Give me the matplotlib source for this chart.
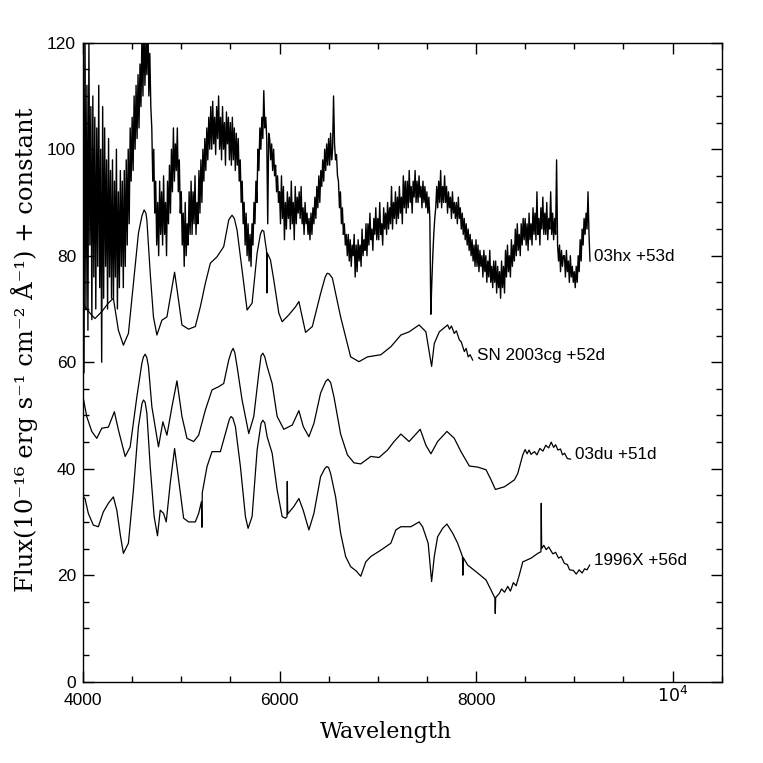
import numpy as np
import matplotlib.pyplot as plt
import matplotlib.transforms as mtransforms
from matplotlib.ticker import MultipleLocator, FixedLocator, FixedFormatter

# ---------------- spectra (wavelength [A], flux + constant) ----------------
# SN 1996X +56d
wl_96x = [4000, 4020, 4054, 4105, 4156, 4207, 4258, 4309, 4344, 4380, 4411, 4462, 4513, 4564,
          4600, 4615, 4632, 4650, 4684, 4724, 4758, 4786, 4820, 4847, 4888, 4932, 4973, 5024,
          5075, 5143, 5177, 5205, 5210, 5214, 5262, 5313, 5398, 5449, 5490, 5507, 5525, 5551,
          5602, 5653, 5680, 5721, 5772, 5812, 5830, 5850, 5874, 5925, 5976, 6027, 6061, 6076,
          6079, 6083, 6146, 6197, 6241, 6299, 6350, 6418, 6460, 6480, 6500, 6520, 6571, 6622,
          6673, 6724, 6780, 6827, 6878, 6929, 7031, 7133, 7184, 7235, 7337, 7421, 7456, 7513,
          7548, 7575, 7609, 7660, 7704, 7762, 7813, 7862, 7866, 7870, 7915, 8017, 8102, 8153,
          8192, 8196, 8200, 8238, 8260, 8290, 8323, 8350, 8380, 8408, 8440, 8476, 8561, 8629,
          8661, 8664, 8668, 8690, 8714, 8740, 8782, 8810, 8840, 8867, 8900, 8930, 8952, 8990,
          9020, 9050, 9080, 9105, 9130, 9157]
fl_96x = [34.8, 34.4, 31.6, 29.4, 29.1, 31.9, 33.5, 34.7, 32.2, 27.5, 24.1, 26.0, 36.0, 47.9,
          52.2, 52.9, 52.5, 50.4, 40.4, 31.0, 27.4, 32.2, 31.6, 30.0, 37.3, 43.8, 37.9, 30.7,
          30.0, 30.0, 31.6, 33.8, 29.0, 35.5, 40.4, 43.2, 43.2, 46.6, 49.3, 49.8, 49.5, 47.9,
          40.4, 31.0, 28.8, 31.0, 43.5, 48.5, 49.1, 48.6, 46.0, 42.9, 36.0, 31.0, 30.7, 31.0,
          37.6, 31.5, 32.9, 34.4, 32.2, 28.5, 31.6, 38.5, 40.0, 40.4, 40.2, 39.1, 34.7, 27.9,
          23.5, 21.6, 20.8, 19.8, 22.5, 23.5, 24.7, 26.0, 28.5, 29.1, 29.1, 30.0, 29.1, 26.0,
          18.8, 23.5, 27.2, 28.8, 29.6, 27.9, 26.0, 23.5, 20.0, 23.3, 21.9, 20.4, 19.1, 17.2,
          15.7, 12.8, 15.8, 16.6, 17.4, 16.8, 17.9, 17.0, 18.6, 18.0, 20.0, 22.5, 23.2, 24.1,
          24.4, 33.5, 25.0, 25.6, 24.8, 25.3, 24.0, 24.3, 23.2, 23.5, 22.2, 22.0, 21.0, 20.9,
          20.2, 21.0, 20.4, 21.2, 21.0, 21.9]

# SN 2003du +51d
wl_03du = [4000, 4038, 4089, 4140, 4191, 4258, 4319, 4360, 4429, 4480, 4548, 4599, 4615, 4633,
           4650, 4666, 4701, 4768, 4813, 4854, 4905, 4956, 5007, 5058, 5126, 5177, 5245, 5313,
           5381, 5432, 5483, 5510, 5528, 5545, 5568, 5619, 5687, 5738, 5789, 5812, 5830, 5850,
           5874, 5925, 5976, 6044, 6130, 6197, 6242, 6299, 6350, 6418, 6470, 6493, 6520, 6554,
           6622, 6691, 6758, 6827, 6929, 7013, 7099, 7166, 7235, 7319, 7378, 7432, 7490, 7541,
           7609, 7704, 7779, 7847, 7932, 8017, 8102, 8153, 8197, 8289, 8391, 8425, 8476, 8500,
           8520, 8540, 8560, 8595, 8620, 8650, 8681, 8710, 8740, 8765, 8790, 8810, 8834, 8860,
           8880, 8901, 8930, 8962]
fl_03du = [53.5, 49.8, 47.0, 45.7, 47.6, 47.8, 50.7, 47.3, 42.3, 44.1, 53.5, 59.8, 61.0, 61.5,
           60.8, 59.2, 51.6, 44.1, 48.8, 46.3, 51.6, 56.5, 49.8, 45.7, 45.1, 46.3, 51.0, 54.8,
           55.4, 56.0, 60.4, 62.0, 62.6, 61.8, 59.2, 52.9, 46.6, 49.8, 57.9, 61.2, 61.7, 61.0,
           59.2, 56.0, 49.8, 47.4, 48.2, 50.9, 47.9, 46.0, 48.5, 54.2, 56.4, 56.8, 56.2, 53.5,
           46.5, 42.6, 41.1, 40.9, 42.3, 42.1, 43.5, 45.1, 46.5, 45.1, 46.3, 47.4, 44.4, 42.8,
           45.1, 47.0, 45.7, 43.2, 40.5, 40.3, 39.8, 37.9, 36.1, 36.6, 37.9, 39.1, 42.6, 43.6,
           42.8, 43.5, 42.7, 43.2, 42.6, 43.8, 43.3, 44.4, 43.9, 45.0, 44.0, 44.5, 43.5, 43.7,
           42.6, 42.9, 41.9, 41.8]

# SN 2003cg +52d
wl_03cg = [4000, 4020, 4071, 4122, 4191, 4258, 4309, 4360, 4411, 4462, 4513, 4564, 4600, 4622,
           4640, 4650, 4684, 4717, 4752, 4803, 4854, 4895, 4932, 4972, 5007, 5074, 5143, 5194,
           5245, 5296, 5364, 5432, 5483, 5500, 5517, 5540, 5568, 5619, 5670, 5721, 5772, 5805,
           5823, 5840, 5857, 5868, 5872, 5876, 5908, 5942, 5993, 6027, 6095, 6163, 6197, 6265,
           6334, 6418, 6465, 6485, 6505, 6538, 6622, 6724, 6809, 6895, 7031, 7133, 7235, 7319,
           7421, 7490, 7548, 7575, 7626, 7711, 7730, 7750, 7779, 7800, 7830, 7850, 7881, 7900,
           7920, 7940, 7966]
fl_03cg = [71.7, 70.4, 69.2, 68.2, 69.5, 71.1, 72.0, 66.0, 63.2, 65.4, 74.8, 84.2, 87.5, 88.6,
           88.0, 86.7, 76.7, 68.5, 65.1, 67.9, 68.5, 72.9, 76.9, 71.7, 67.0, 66.2, 66.7, 70.4,
           74.8, 78.6, 79.8, 81.7, 86.7, 87.2, 87.6, 87.0, 84.8, 77.3, 69.8, 71.1, 80.5, 84.0,
           84.8, 84.6, 82.3, 81.0, 73.0, 80.5, 79.2, 75.4, 69.2, 67.6, 68.9, 70.4, 71.4, 65.6,
           66.7, 72.9, 76.0, 76.7, 76.6, 75.8, 68.5, 61.0, 60.1, 61.0, 61.4, 62.9, 65.1, 65.7,
           67.0, 65.7, 59.2, 63.5, 65.7, 67.0, 66.2, 66.8, 65.4, 65.9, 64.2, 63.8, 62.0, 62.6,
           61.0, 61.4, 60.4]

# SN 2003hx +53d (noisy), sampled every 10 A from 4000 A, one row per 100 A
fl_03hx = [125, 58, 124, 70, 112, 66, 120, 82, 108, 68,      # 4000
           110, 76, 106, 70, 104, 78, 112, 74, 100, 60,      # 4100
           108, 72, 104, 78, 98, 70, 102, 76, 96, 72,        # 4200
           98, 72, 94, 76, 100, 70, 92, 74, 96, 78,          # 4300
           94, 74, 96, 78, 98, 82, 100, 86, 104, 94,         # 4400
           106, 96, 110, 100, 112, 102, 114, 104, 116, 108,  # 4500
           122, 110, 124, 112, 120, 114, 126, 110, 118, 108, # 4600
           104, 94, 100, 88, 94, 82, 90, 80, 94, 84,         # 4700
           92, 82, 95, 84, 90, 80, 94, 86, 97, 88,           # 4800
           100, 92, 104, 94, 101, 96, 104, 92, 98, 88,       # 4900
           92, 82, 88, 78, 90, 80, 86, 82, 92, 84,           # 5000
           94, 84, 92, 86, 95, 84, 90, 86, 96, 88,           # 5100
           98, 90, 100, 94, 102, 96, 104, 98, 106, 100,      # 5200
           108, 100, 109, 101, 106, 99, 108, 102, 110, 100,  # 5300
           106, 98, 108, 100, 105, 97, 107, 101, 106, 98,    # 5400
           105, 97, 106, 98, 104, 96, 103, 97, 102, 94,      # 5500
           98, 90, 94, 86, 90, 82, 88, 80, 86, 79,           # 5600
           84, 78, 86, 82, 90, 86, 94, 90, 100, 96,          # 5700
           104, 100, 106, 102, 111, 104, 106, 102, 86, 103,  # 5800
           102, 98, 101, 96, 100, 95, 97, 92, 95, 90,        # 5900
           92, 86, 95, 87, 93, 83, 90, 85, 92, 87,           # 6000
           91, 85, 94, 86, 90, 83, 93, 86, 91, 88,           # 6100
           92, 87, 93, 86, 89, 84, 90, 86, 88, 84,           # 6200
           87, 83, 88, 84, 89, 86, 91, 87, 93, 89,           # 6300
           95, 90, 96, 93, 98, 94, 100, 96, 101, 97,         # 6400
           102, 97, 103, 98, 100, 110, 101, 98, 99, 95,      # 6500
           94, 89, 92, 86, 89, 84, 86, 82, 84, 80,           # 6600
           84, 79, 83, 78, 82, 80, 84, 76, 82, 77,           # 6700
           83, 79, 82, 78, 85, 80, 83, 81, 86, 80,           # 6800
           86, 82, 88, 83, 85, 81, 87, 84, 89, 83,           # 6900
           87, 83, 90, 84, 86, 82, 89, 85, 88, 84,           # 7000
           90, 85, 89, 86, 93, 85, 90, 87, 92, 86,           # 7100
           91, 87, 93, 88, 91, 86, 95, 89, 94, 88,           # 7200
           94, 89, 96, 90, 93, 88, 94, 91, 96, 90,           # 7300
           94, 90, 95, 91, 93, 89, 94, 90, 93, 89,           # 7400
           92, 88, 91, 87, 69, 75, 80, 84, 87, 89,           # 7500
           93, 89, 94, 90, 96, 89, 93, 90, 95, 90,           # 7600
           93, 88, 92, 89, 91, 87, 92, 88, 90, 87,           # 7700
           90, 86, 91, 87, 89, 85, 88, 84, 87, 83,           # 7800
           86, 82, 85, 81, 84, 80, 83, 79, 82, 78,           # 7900
           83, 78, 82, 77, 81, 78, 80, 76, 81, 77,           # 8000
           80, 75, 79, 76, 81, 75, 78, 74, 79, 75,           # 8100
           79, 73, 78, 74, 77, 72, 79, 74, 78, 73,           # 8200
           81, 76, 82, 77, 80, 76, 83, 78, 82, 79,           # 8300
           85, 80, 86, 81, 84, 80, 86, 82, 87, 83,           # 8400
           87, 82, 86, 81, 88, 83, 86, 82, 89, 84,           # 8500
           88, 83, 92, 84, 87, 82, 89, 85, 91, 84,           # 8600
           88, 84, 90, 83, 87, 85, 92, 84, 88, 83,           # 8700
           87, 84, 98, 82, 79, 82, 77, 81, 78, 80,           # 8800
           80, 76, 81, 77, 79, 75, 80, 76, 78, 75,           # 8900
           77, 74, 78, 75, 80, 77, 83, 79, 85, 82,           # 9000
           87, 84, 88, 85, 92, 84, 79]                       # 9100

labels = ["03hx +53d", "SN 2003cg +52d", "03du +51d", "1996X +56d"]

x_ticks = [4000, 6000, 8000, 10000]
x_tick_labels = ["4000", "6000", "8000", r"$10^4$"]

# 03hx wavelength grid (10 A sampling)
wl_03hx = 4000 + 10 * np.arange(len(fl_03hx))

spectra = [(wl_03hx, np.array(fl_03hx, float), 1.0),
           (np.array(wl_03cg), np.array(fl_03cg), 0.9),
           (np.array(wl_03du), np.array(fl_03du), 0.9),
           (np.array(wl_96x), np.array(fl_96x), 0.9)]

# ---------------- plot ----------------
plt.rcParams['font.family'] = ['Liberation Sans', 'DejaVu Sans']

fig = plt.figure(figsize=(7.63, 7.63), dpi=100)
ax = fig.add_axes([0.1088, 0.1066, 0.837, 0.8374])

for (wl, fl, lw), lab in zip(spectra, labels):
    ax.plot(wl, fl, color='black', lw=lw)
    ax.text(wl[-1] + 45, fl[-1] + 0.8, lab, fontsize=12.3, va='center', ha='left')

ax.set_xlim(4000, 10500)
ax.set_ylim(0, 120)

ax.xaxis.set_major_locator(FixedLocator(x_ticks))
ax.xaxis.set_major_formatter(FixedFormatter(x_tick_labels))
ax.xaxis.set_minor_locator(MultipleLocator(500))
ax.yaxis.set_major_locator(MultipleLocator(20))
ax.yaxis.set_minor_locator(MultipleLocator(5))

ax.tick_params(which='both', direction='in', top=True, right=True, labelsize=12.5, width=1)
ax.tick_params(which='major', length=8)
ax.tick_params(which='minor', length=4)
ax.tick_params(axis='x', pad=8)
ax.tick_params(axis='y', pad=5)
for sp in ax.spines.values():
    sp.set_linewidth(1.0)

# the 10^4 label sits a little higher than the others in the original
lab_1e4 = ax.get_xticklabels()[-1]
lab_1e4.set_transform(lab_1e4.get_transform() +
                      mtransforms.ScaledTranslation(0, 6 / 72, fig.dpi_scale_trans))

ax.set_xlabel("Wavelength", family='DejaVu Serif', fontsize=16)
ax.xaxis.set_label_coords(0.474, -0.078)
ax.set_ylabel("Flux(10\u207b\u00b9\u2076 erg s\u207b\u00b9 cm\u207b\u00b2 \u00c5\u207b\u00b9) + constant",
              family='DejaVu Serif', fontsize=17.5)
ax.yaxis.set_label_coords(-0.091, 0.519)
ax.xaxis.label.set_va('center')
ax.yaxis.label.set_va('center')

fig.savefig("out.png", dpi=100)
